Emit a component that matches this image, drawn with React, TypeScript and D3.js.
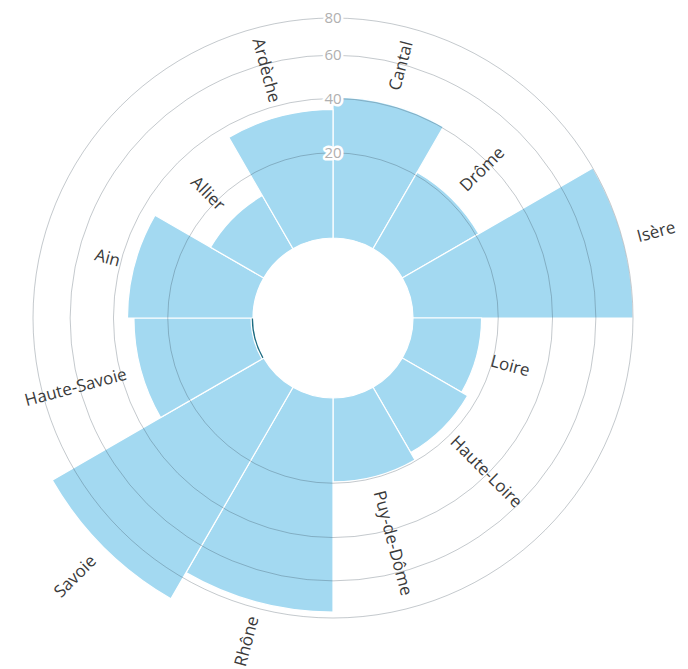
import React from "react";
import * as d3 from "d3";

const categories = ["Cantal", "Drôme", "Isère", "Loire", "Haute-Loire", "Puy-de-Dôme", "Rhône", "Savoie", "Haute-Savoie", "Ain", "Allier", "Ardèche"];
const seriesKeys = ["a", "b"];
const seriesA = [0, 0, 0, 0, 0, 0, 0, 0, 0.3, 0, 0, 0];
const seriesB = [40.6, 21, 80, 15, 17, 19.6, 76.6, 94.5, 31.5, 34.3, 13, 35.5];
const tickValues = [20, 40, 60, 80];
const seriesColors = ["#1d6c82", "#a3d9f1"];

const W = 688;
const H = 669;
const CX = 333;
const CY = 318;
const INNER = 80;
const OUTER = 300;

export default function App() {
  const rows = categories.map((c, i) => ({ cat: c, a: seriesA[i], b: seriesB[i] }));
  const x = d3.scaleBand<string>().domain(categories).range([0, 2 * Math.PI]).align(0);
  const y = d3.scaleRadial().domain([0, 80]).range([INNER, OUTER]);
  const stacked = d3.stack<any>().keys(seriesKeys)(rows);
  const arc = d3
    .arc<any>()
    .innerRadius((d: any) => y(d[0]))
    .outerRadius((d: any) => y(d[1]))
    .startAngle((d: any) => x(d.data.cat) as number)
    .endAngle((d: any) => (x(d.data.cat) as number) + x.bandwidth());

  const total = (i: number) => seriesA[i] + seriesB[i];

  return (
    <svg width={W} height={H} style={{ position: "absolute", left: 0, top: 0, background: "#fff" }} fontFamily="'Open Sans', sans-serif">
      <g transform={`translate(${CX},${CY})`}>
        {stacked.map((s, si) => (
          <g key={si} fill={seriesColors[si]}>
            {s.map((d: any, i: number) =>
              d[1] - d[0] > 0 ? (
                <path key={i} d={arc(d) as string} stroke={si === 1 ? "#fff" : "none"} strokeWidth={1.2} />
              ) : null
            )}
          </g>
        ))}
        <g fill="none">
          {tickValues.map((t) => (
            <circle key={t} r={y(t)} stroke="#2c3e4a" strokeOpacity={0.28} strokeWidth={1} />
          ))}
        </g>
        <g textAnchor="middle" fontSize={15}>
          {tickValues.map((t) => (
            <g key={t}>
              <text y={-y(t)} dy="0.35em" fill="none" stroke="#fff" strokeWidth={5} strokeLinejoin="round">
                {t}
              </text>
              <text y={-y(t)} dy="0.35em" fill="#b0b0b0">
                {t}
              </text>
            </g>
          ))}
        </g>
        <g fontSize={17} fill="#3a3a3a">
          {categories.map((c, i) => {
            const mid = ((x(c) as number) + x.bandwidth() / 2) * 180 / Math.PI;
            const r = y(total(i)) + 15;
            const flip = mid > 180;
            return (
              <g key={c} transform={`rotate(${mid - 90}) translate(${r},0)`}>
                <text
                  transform={flip ? "rotate(180)" : undefined}
                  textAnchor={flip ? "end" : "start"}
                  dy="0.35em"
                >
                  {c}
                </text>
              </g>
            );
          })}
        </g>
      </g>
    </svg>
  );
}
